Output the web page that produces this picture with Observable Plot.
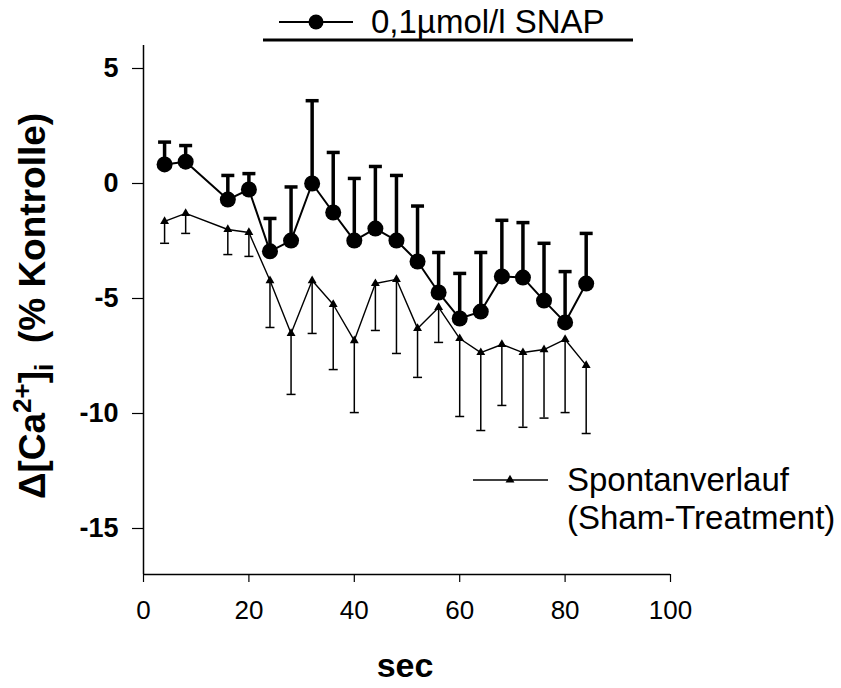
<!DOCTYPE html>
<html>
<head>
<meta charset="utf-8">
<script src="https://cdn.jsdelivr.net/npm/d3@7"></script>
<script src="https://cdn.jsdelivr.net/npm/@observablehq/plot@0.6"></script>
<style>
  html, body { margin: 0; padding: 0; background: white; }
  svg { display: block; }
</style>
</head>
<body>
<div id="chart"></div>
<script>
const times = [4, 8, 16, 20, 24, 28, 32, 36, 40, 44, 48, 52, 56, 60, 64, 68, 72, 76, 80, 84];
const snapMean  = [0.83, 0.95, -0.70, -0.26, -2.95, -2.48, 0.00, -1.26, -2.48, -1.96, -2.48, -3.39, -4.74, -5.87, -5.57, -4.04, -4.09, -5.09, -6.04, -4.35];
const snapUpper = [1.80, 1.65, 0.35, 0.43, -1.52, -0.15, 3.60, 1.35, 0.22, 0.74, 0.35, -0.98, -3.00, -3.91, -3.00, -1.60, -1.70, -2.60, -3.83, -2.17];
const shamMean  = [-1.65, -1.30, -2.00, -2.13, -4.22, -6.52, -4.22, -5.26, -6.83, -4.35, -4.17, -6.30, -5.39, -6.74, -7.35, -7.00, -7.35, -7.22, -6.78, -7.91];
const shamLower = [-2.60, -2.17, -3.09, -3.17, -6.26, -9.17, -6.52, -8.09, -9.96, -6.39, -7.39, -8.43, -6.91, -10.13, -10.74, -9.65, -10.60, -10.20, -9.96, -10.87];
const xTicks = [0, 20, 40, 60, 80, 100];
const yTicks = [-15, -10, -5, 0, 5];
const snapLabel = "0,1µmol/l SNAP";
const shamLabel1 = "Spontanverlauf";
const shamLabel2 = "(Sham-Treatment)";
const xLabel = "sec";

const snap = times.map((t, i) => ({t, mean: snapMean[i], upper: snapUpper[i]}));
const sham = times.map((t, i) => ({t, mean: shamMean[i], lower: shamLower[i]}));

const capSymbol = {
  draw(context, size) {
    const h = Math.sqrt(size / Math.PI);
    context.moveTo(-h, 0);
    context.lineTo(h, 0);
  }
};

const font = "'Liberation Sans', Arial, sans-serif";

const plot = Plot.plot({
  width: 841,
  height: 688,
  marginLeft: 143,
  marginRight: 171,
  marginTop: 45,
  marginBottom: 114,
  x: {domain: [0, 100]},
  y: {domain: [-17, 6]},
  style: {fontFamily: font, background: "white", color: "black", overflow: "visible"},
  marks: [
    Plot.axisX({ticks: xTicks, tickSize: 8, tickPadding: 18, fontSize: 26, label: null, tickFormat: d => String(d), strokeWidth: 1.2}),
    Plot.axisY({ticks: yTicks, tickSize: 11, tickPadding: 14, fontSize: 27, fontWeight: "bold", label: null, tickFormat: d => String(d), strokeWidth: 1.2}),
    Plot.ruleX([0], {y1: -17, y2: 6, strokeWidth: 1.5}),
    Plot.ruleY([-17], {x1: 0, x2: 100, strokeWidth: 1.5}),
    // sham
    Plot.line(sham, {x: "t", y: "mean", stroke: "black", strokeWidth: 1.4}),
    Plot.ruleX(sham, {x: "t", y1: "mean", y2: "lower", stroke: "black", strokeWidth: 1.5}),
    Plot.dot(sham, {x: "t", y: "lower", symbol: capSymbol, r: 4.5, stroke: "black", strokeWidth: 1.5}),
    Plot.dot(sham, {x: "t", y: "mean", symbol: "triangle", r: 3.3, fill: "black", stroke: "none"}),
    // snap
    Plot.ruleX(snap, {x: "t", y1: "mean", y2: "upper", stroke: "black", strokeWidth: 3.5}),
    Plot.dot(snap, {x: "t", y: "upper", symbol: capSymbol, r: 6.5, stroke: "black", strokeWidth: 3.5}),
    Plot.line(snap, {x: "t", y: "mean", stroke: "black", strokeWidth: 2}),
    Plot.dot(snap, {x: "t", y: "mean", r: 8, fill: "black", stroke: "none"})
  ]
});

document.getElementById("chart").appendChild(plot);
const svg = d3.select(plot);
svg.selectAll("g[aria-label='y-axis tick label']").attr("font-weight", "bold");

// Y axis label
const yl = svg.append("text")
  .attr("transform", "translate(45,306) rotate(-90)")
  .attr("text-anchor", "middle")
  .attr("font-family", font)
  .attr("font-weight", "bold")
  .attr("font-size", 37)
  .attr("fill", "black");
yl.append("tspan").text("Δ[Ca");
yl.append("tspan").attr("font-size", 26).attr("dy", -14).text("2+");
yl.append("tspan").attr("dy", 14).text("]");
yl.append("tspan").attr("font-size", 26).attr("dy", 8).text("i");
yl.append("tspan").attr("dy", -8).text("\u00a0 (% Kontrolle)");

// X axis label
svg.append("text")
  .attr("x", 405).attr("y", 677)
  .attr("text-anchor", "middle")
  .attr("font-family", font)
  .attr("font-weight", "bold")
  .attr("font-size", 34)
  .attr("fill", "black")
  .text(xLabel);

// Top legend
const lg1 = svg.append("g").attr("text-anchor", "start");
lg1.append("line").attr("x1", 279).attr("x2", 353).attr("y1", 22).attr("y2", 22).attr("stroke", "black").attr("stroke-width", 2);
lg1.append("circle").attr("cx", 316).attr("cy", 22).attr("r", 7.5).attr("fill", "black");
lg1.append("text").attr("x", 371).attr("y", 33).attr("text-anchor", "start").attr("font-family", font).attr("font-size", 33).attr("fill", "black").text(snapLabel);
lg1.append("line").attr("x1", 263).attr("x2", 633).attr("y1", 40).attr("y2", 40).attr("stroke", "black").attr("stroke-width", 3);

// Sham legend
const lg2 = svg.append("g").attr("text-anchor", "start");
lg2.append("line").attr("x1", 473).attr("x2", 548).attr("y1", 480).attr("y2", 480).attr("stroke", "black").attr("stroke-width", 1.3);
lg2.append("path").attr("transform", "translate(510,480)").attr("d", d3.symbol(d3.symbolTriangle, Math.PI * 3.3 * 3.3)()).attr("fill", "black");
lg2.append("text").attr("x", 567).attr("y", 491).attr("text-anchor", "start").attr("font-family", font).attr("font-size", 33).attr("fill", "black").text(shamLabel1);
lg2.append("text").attr("x", 567).attr("y", 529).attr("text-anchor", "start").attr("font-family", font).attr("font-size", 33).attr("fill", "black").text(shamLabel2);
</script>
</body>
</html>
